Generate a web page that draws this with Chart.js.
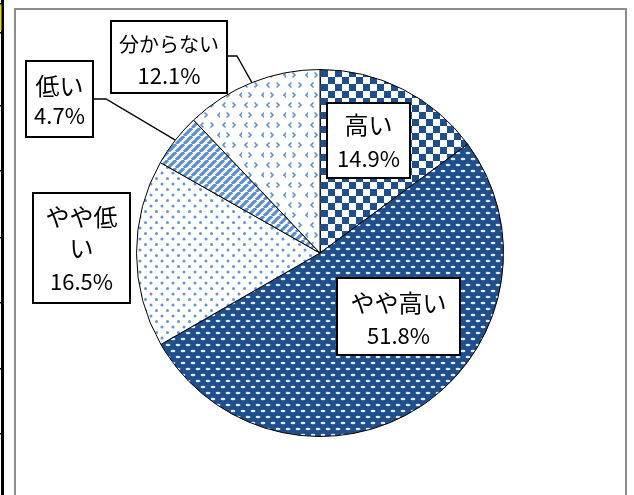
<!DOCTYPE html>
<html>
<head>
<meta charset="utf-8">
<script src="https://cdn.jsdelivr.net/npm/chart.js@4.4.1/dist/chart.umd.min.js"></script>
<style>
  body { margin: 0; background: #fff; }
  canvas { display: block; }
</style>
</head>
<body>
<canvas id="pie" width="634" height="495"></canvas>
<script>
// data
const categories = ['高い', 'やや高い', 'やや低い', '低い', '分からない'];
const shares = [14.9, 51.8, 16.5, 4.7, 12.1];
const labelLines = [['高い'], ['やや高い'], ['やや低', 'い'], ['低い'], ['分からない']];

// label boxes, offsets from the pie centre (px)
const boxLayout = [
    { left: 7, top: -150, w: 83, h: 75, lineY: [22, 56] },
    { left: 17, top: 25, w: 123, h: 77, lineY: [25, 58] },
    { left: -287, top: -60, w: 97, h: 110, lineY: [24, 55, 89] },
    { left: -294, top: -192, w: 67, h: 76, lineY: [25, 55], leader: { y: 38, stub: 13 } },
    { left: -209, top: -232, w: 116, h: 72, lineY: [23, 55], leader: { y: 35, stub: 10 }, size: 20 }
];

const NAVY = '#1f4e8c';
const LIGHT = '#6494d4';
const FONT = '"Noto Sans CJK JP", "Noto Sans", sans-serif';

const canvas = document.getElementById('pie');
const ctx = canvas.getContext('2d');

function makePattern(w, h, draw, ox, oy) {
    const c = document.createElement('canvas');
    c.width = w;
    c.height = h;
    draw(c.getContext('2d'), w, h);
    const p = ctx.createPattern(c, 'repeat');
    if (ox || oy) p.setTransform(new DOMMatrix().translate(ox || 0, oy || 0));
    return p;
}

const checker = makePattern(14, 14, (g) => {
    g.fillStyle = '#fff'; g.fillRect(0, 0, 14, 14);
    g.fillStyle = NAVY;
    g.fillRect(0, 0, 7, 7);
    g.fillRect(7, 7, 7, 7);
}, 321, 70);

const dashes = makePattern(10, 12, (g) => {
    g.fillStyle = NAVY; g.fillRect(0, 0, 10, 12);
    g.fillStyle = '#e4eaf3';
    [[3, 3], [8, 9], [-2, 9]].forEach(([x, y]) => {
        g.beginPath();
        g.ellipse(x, y, 2.4, 1.2, 0, 0, Math.PI * 2);
        g.fill();
    });
});

const dots = makePattern(11, 11, (g) => {
    g.fillStyle = '#fff'; g.fillRect(0, 0, 11, 11);
    g.fillStyle = LIGHT;
    [[2.5, 2.5], [8, 8]].forEach(([x, y]) => {
        g.beginPath();
        g.arc(x, y, 1.5, 0, Math.PI * 2);
        g.fill();
    });
});

const stripes = makePattern(8, 8, (g) => {
    g.fillStyle = '#fff'; g.fillRect(0, 0, 8, 8);
    g.strokeStyle = '#5b8fd3';
    g.lineWidth = 3.2;
    g.beginPath();
    [-8, 0, 8].forEach(k => { g.moveTo(k, 8); g.lineTo(k + 8, 0); });
    g.stroke();
});

const chevrons = makePattern(22, 20, (g) => {
    g.fillStyle = '#fff'; g.fillRect(0, 0, 22, 20);
    g.strokeStyle = LIGHT;
    g.lineWidth = 1.7;
    const chev = (x, y, dir) => {
        g.beginPath();
        g.moveTo(x + 2.5 * dir, y - 2.5);
        g.lineTo(x, y);
        g.lineTo(x + 2.5 * dir, y + 2.5);
        g.stroke();
    };
    chev(3, 5, 1);
    chev(15, 5, -1);
    chev(9, 15, -1);
    chev(20, 15, 1);
});

const fills = [checker, dashes, dots, stripes, chevrons];

const framePlugin = {
    id: 'frame',
    beforeDraw(chart) {
        const c = chart.ctx;
        c.save();
        // sheet edge on the left
        c.fillStyle = '#000';
        c.fillRect(1, 0, 3, 495);
        c.fillStyle = '#e8d800';
        c.fillRect(0, 3, 1.5, 27);
        c.fillStyle = '#000';
        [3, 32, 105, 170, 237, 302, 368, 433].forEach(y => c.fillRect(0, y, 3, 1.5));
        // chart border
        c.strokeStyle = '#8c8c8c';
        c.lineWidth = 2;
        c.beginPath();
        c.moveTo(15, 500);
        c.lineTo(15, 9);
        c.lineTo(626, 9);
        c.lineTo(626, 500);
        c.stroke();
        c.restore();
    }
};

const labelPlugin = {
    id: 'boxLabels',
    afterDraw(chart) {
        const c = chart.ctx;
        const arcs = chart.getDatasetMeta(0).data;
        c.save();
        arcs.forEach((arc, i) => {
            const b = boxLayout[i];
            const x0 = arc.x + b.left;
            const y0 = arc.y + b.top;
            if (b.leader) {
                const mid = (arc.startAngle + arc.endAngle) / 2;
                const ex = arc.x + arc.outerRadius * Math.cos(mid);
                const ey = arc.y + arc.outerRadius * Math.sin(mid);
                c.strokeStyle = '#000';
                c.lineWidth = 1.3;
                c.beginPath();
                c.moveTo(x0 + b.w, y0 + b.leader.y);
                c.lineTo(x0 + b.w + b.leader.stub, y0 + b.leader.y);
                c.lineTo(ex, ey);
                c.stroke();
            }
            c.fillStyle = '#fff';
            c.fillRect(x0, y0, b.w, b.h);
            c.strokeStyle = '#000';
            c.lineWidth = 2;
            c.strokeRect(x0, y0, b.w, b.h);
            c.fillStyle = '#000';
            c.textAlign = 'center';
            c.textBaseline = 'middle';
            const lines = labelLines[i].concat([shares[i].toFixed(1) + '%']);
            lines.forEach((t, k) => {
                const isPct = k === lines.length - 1;
                c.font = (isPct ? 22 : (b.size || 24)) + 'px ' + FONT;
                c.fillText(t, x0 + b.w / 2, y0 + b.lineY[k]);
            });
        });
        c.restore();
    }
};

new Chart(canvas, {
    type: 'pie',
    data: {
        labels: categories,
        datasets: [{
            data: shares,
            backgroundColor: fills,
            borderColor: '#000',
            borderWidth: 1
        }]
    },
    options: {
        responsive: false,
        animation: false,
        layout: { padding: { left: 136, right: 130, top: 69, bottom: 58 } },
        plugins: {
            legend: { display: false },
            tooltip: { enabled: false }
        }
    },
    plugins: [framePlugin, labelPlugin]
});
</script>
</body>
</html>
